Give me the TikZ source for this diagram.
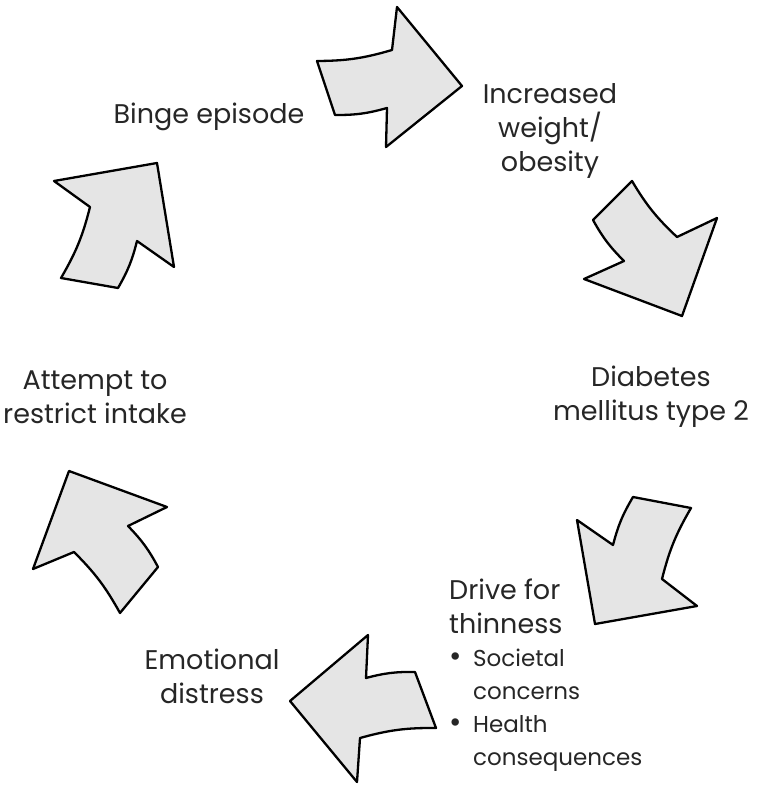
\documentclass[tikz,border=0pt]{standalone}
\usepackage{fontspec}
\setmainfont{Poppins}
\usetikzlibrary{positioning}

\begin{document}
\begin{tikzpicture}[x=1pt, y=-1pt,
    blockarrow/.style={draw=black, fill=black!10, line width=2.3pt, line join=round},
    arccw/.style={bend right=8},
    arcccw/.style={bend left=8},
    label/.style={align=center, text=black!85, inner sep=0pt, font=\fontsize{27}{34}\selectfont},
    sublabel/.style={align=left, text=black!85, inner sep=0pt, font=\fontsize{23}{33}\selectfont},
    dot/.style={}]

        \useasboundingbox (0,0) rectangle (756,786);

        % Binge episode -> weight
        \draw [blockarrow] (317,61) to[arccw] (392,50) -- (397,7) -- (462,86) -- (386,147) -- (387,108) to[arcccw] (335,115) -- cycle;

        % weight -> diabetes
        \draw [blockarrow] (593,220) to[arccw] (624,261) -- (584,279) -- (682,316) -- (717,218) -- (677,237) to[arcccw] (632,181) -- cycle;

        % diabetes -> drive for thinness
        \draw [blockarrow] (691,508) to[arccw] (662,579) -- (697,606) -- (595,624) -- (577,520) -- (613,545) to[arcccw] (633,497) -- cycle;

        % drive for thinness -> distress
        \draw [blockarrow] (436,728) to[arccw] (360,738) -- (357,782) -- (290,701) -- (368,635) -- (366,678) to[arcccw] (415,672) -- cycle;

        % distress -> restrict intake
        \draw [blockarrow] (120,613) to[arccw] (74,552) -- (33,569) -- (69,471) -- (167,507) -- (128,526) to[arcccw] (158,567) -- cycle;

        % restrict intake -> binge
        \draw [blockarrow] (61,278) to[arccw] (90,207) -- (54,181) -- (157,163) -- (174,267) -- (137,241) to[arcccw] (118,288) -- cycle;

        % Labels
        \node [label] (binge) at (209,117) {Binge episode};
        \node [label] (weight) at (550,131) {Increased\\weight/\\obesity};
        \node [label] (diabetes) at (651,397) {Diabetes\\mellitus type 2};
        \node [label, align=left, anchor=north west] (drive) at (449,579) {Drive for\\thinness};
        \node [sublabel, below=15pt of drive.south west, anchor=north west] (drivelist) {\makebox[24pt][l]{\fontsize{30}{33}\selectfont\textbullet}Societal\\\hspace*{24pt}concerns\\\makebox[24pt][l]{\fontsize{30}{33}\selectfont\textbullet}Health\\\hspace*{24pt}consequences};
        \node [label] (distress) at (212,676) {Emotional\\distress};
        \node [label] (attempt) at (95,397) {Attempt to\\restrict intake};

    \end{tikzpicture}
\end{document}
